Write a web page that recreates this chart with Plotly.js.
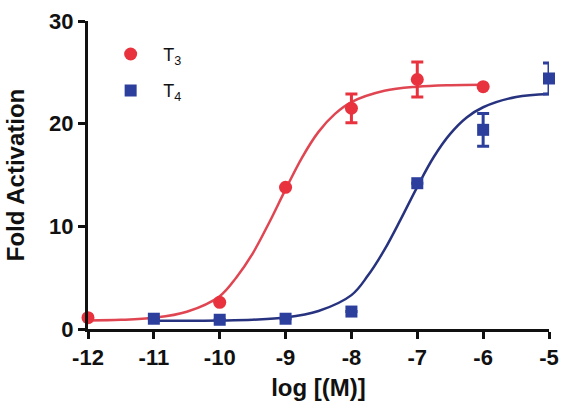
<!DOCTYPE html>
<html>
<head>
<meta charset="utf-8">
<script src="https://cdn.plot.ly/plotly-3.0.1.min.js"></script>
<style>html,body{margin:0;padding:0;background:#fff;}#chart{width:564px;height:408px;}</style>
</head>
<body>
<div id="chart"></div>
<script>
// Measured points
const t3LogM = [-12, -10, -9, -8, -7, -6];
const t3Fold = [1.1, 2.6, 13.8, 21.5, 24.3, 23.6];
const t3Err  = [0, 0, 0, 1.4, 1.7, 0];

const t4LogM = [-11, -10, -9, -8, -7, -6, -5];
const t4Fold = [1.0, 0.9, 1.0, 1.7, 14.2, 19.4, 24.4];
const t4Err  = [0, 0, 0, 0, 0, 1.6, 1.5];

// Fitted curves
const t3CurveX = [-12, -11.5, -11, -10.5, -10, -9.75, -9.5, -9.25, -9, -8.75, -8.5, -8.25, -8, -7.5, -7, -6.5, -6];
const t3CurveY = [0.83, 0.89, 1.09, 1.68, 3.2, 5.0, 7.35, 10.35, 13.6, 16.7, 19.2, 20.95, 22.1, 23.2, 23.6, 23.75, 23.8];
const t4CurveX = [-11, -10.5, -10, -9.5, -9, -8.5, -8, -7.75, -7.5, -7.25, -7, -6.75, -6.5, -6.25, -6, -5.5, -5];
const t4CurveY = [0.8, 0.8, 0.83, 0.9, 1.11, 1.75, 3.3, 5.2, 7.7, 10.7, 13.85, 16.75, 19.0, 20.6, 21.6, 22.6, 22.9];

const xTicks = [-12, -11, -10, -9, -8, -7, -6, -5];
const yTicks = [0, 10, 20, 30];

const red = '#e8333f';
const redLine = '#e04652';
const blue = '#2c3f9c';
const blueLine = '#27337f';
const FONT = 'Liberation Sans, Arial, sans-serif';

const traces = [
  {x: t3CurveX, y: t3CurveY, mode: 'lines', line: {color: redLine, width: 2.5, shape: 'spline'}, showlegend: false, hoverinfo: 'skip', cliponaxis: false},
  {x: t4CurveX, y: t4CurveY, mode: 'lines', line: {color: blueLine, width: 2.5, shape: 'spline'}, showlegend: false, hoverinfo: 'skip', cliponaxis: false},
  {x: t3LogM, y: t3Fold, mode: 'markers', name: 'T<sub>3</sub>', legendgroup: 'a', cliponaxis: false,
   marker: {color: red, size: 13, symbol: 'circle'},
   error_y: {type: 'data', array: t3Err, visible: true, color: red, thickness: 3, width: 6}},
  {x: t4LogM, y: t4Fold, mode: 'markers', name: 'T<sub>4</sub>', legendgroup: 'b', cliponaxis: false,
   marker: {color: blue, size: 12, symbol: 'square'},
   error_y: {type: 'data', array: t4Err, visible: true, color: blue, thickness: 3, width: 6}}
];

const layout = {
  width: 564, height: 408,
  margin: {l: 88, r: 15, t: 21, b: 79},
  paper_bgcolor: '#fff', plot_bgcolor: '#fff',
  font: {family: FONT, color: '#111'},
  xaxis: {
    range: [-12, -5], tickvals: xTicks, ticktext: xTicks.map(String),
    showgrid: false, zeroline: false, showline: true, linecolor: '#111', linewidth: 3,
    ticks: 'outside', ticklen: 7, tickwidth: 3, tickcolor: '#111',
    tickfont: {size: 22, family: FONT, weight: 'bold'},
    title: {text: '<b>log [(M)]</b>', font: {size: 24}, standoff: 10}
  },
  yaxis: {
    range: [0, 30], tickvals: yTicks, ticktext: yTicks.map(String),
    showgrid: false, zeroline: false, showline: true, linecolor: '#111', linewidth: 3,
    ticks: 'outside', ticklen: 7, tickwidth: 3, tickcolor: '#111',
    tickfont: {size: 22, family: FONT, weight: 'bold'},
    title: {text: '<b>Fold Activation</b>', font: {size: 24}, standoff: 18}
  },
  legend: {x: 0.022, y: 0.952, xanchor: 'left', yanchor: 'top', bgcolor: 'rgba(0,0,0,0)',
    font: {size: 18}, itemwidth: 55, tracegroupgap: 10},
  showlegend: true
};

Plotly.newPlot('chart', traces, layout, {displayModeBar: false, staticPlot: true});
</script>
</body>
</html>
